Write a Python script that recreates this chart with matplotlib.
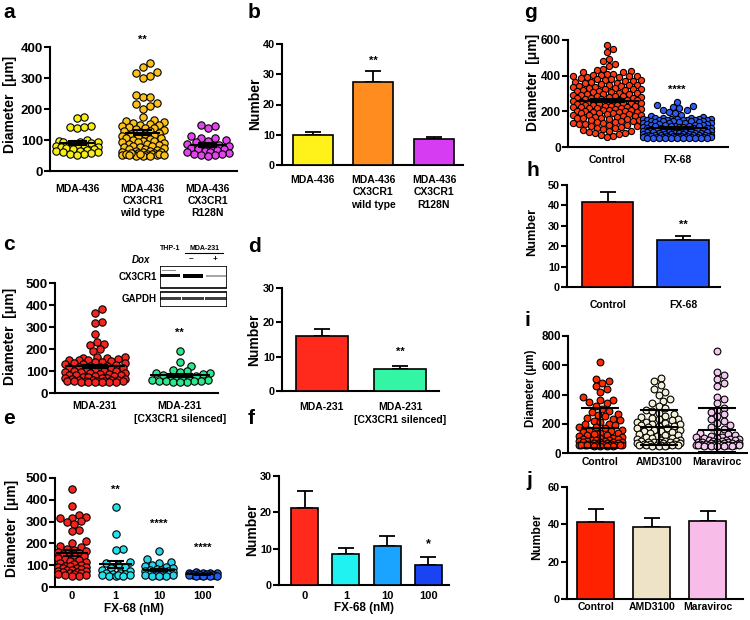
#Libraries
import numpy as np
import matplotlib
matplotlib.use('Agg')
import matplotlib.pyplot as plt
from matplotlib.patches import Rectangle

#Set style
plt.rcParams['font.family'] = ['Liberation Sans', 'DejaVu Sans']
plt.rcParams['font.weight'] = 'bold'

#Data: diameters (um)
a_436 = [175, 170, 145, 143, 140, 142, 100, 97, 95, 95, 92, 90, 88, 85, 82, 80, 78, 76, 74, 72,
         70, 68, 66, 64, 62, 60, 58, 56, 54, 52]
a_wt = [350, 335, 320, 315, 305, 300, 245, 240, 240, 220, 215, 210, 200, 175, 165, 160, 158, 155,
        152, 150, 148, 145, 142, 140, 138, 135, 132, 130, 128, 125, 122, 120, 118, 115, 112, 110,
        108, 105, 102, 100, 98, 96, 94, 92, 90, 88, 86, 84, 82, 80, 78, 76, 74, 72, 70, 68, 66,
        64, 62, 60, 58, 57, 56, 55, 54, 53, 52, 51, 50, 50, 60, 58, 56, 55, 54, 52, 51, 50]
a_r128n = [150, 145, 140, 112, 108, 105, 100, 97, 92, 88, 85, 82, 80, 78, 75, 72, 70, 68, 65, 62,
           60, 58, 56, 55, 53, 52, 50]
a_labels = ['MDA-436', 'MDA-436\nCX3CR1\nwild type', 'MDA-436\nCX3CR1\nR128N']

c_231 = [380, 362, 322, 318, 270, 232, 225, 220, 200, 190, 165, 162, 160, 158, 155, 152, 150, 148,
         145, 143, 140, 138, 135, 132, 130, 128, 125, 122, 120, 118, 115, 112, 110, 108, 105, 102,
         100, 98, 96, 94, 92, 90, 88, 86, 84, 82, 80, 78, 76, 74, 72, 70, 68, 66, 64, 62, 60, 60,
         58, 58, 56, 56, 55, 55, 54, 53, 52, 52, 51, 50, 50, 50]
c_sil = [190, 140, 125, 105, 100, 96, 92, 90, 86, 82, 78, 74, 70, 66, 62, 60, 58, 56, 55, 54, 53,
         52, 51, 50]
c_labels = ['MDA-231', 'MDA-231\n[CX3CR1 silenced]']

e_0 = [450, 372, 330, 322, 318, 315, 302, 298, 290, 262, 258, 210, 200, 190, 182, 176, 170, 165,
       160, 155, 150, 148, 145, 140, 135, 130, 125, 120, 115, 110, 105, 100, 98, 95, 92, 90, 88,
       85, 82, 80, 78, 75, 72, 70, 68, 65, 62, 60, 58, 56, 54, 52, 50]
e_1 = [365, 245, 175, 172, 115, 110, 100, 92, 85, 78, 72, 66, 62, 58, 55, 52, 50, 60, 56, 54, 51]
e_10 = [165, 130, 115, 110, 100, 96, 92, 88, 84, 80, 78, 75, 72, 70, 68, 65, 62, 60, 58, 56, 55,
        54, 53, 52, 51, 50]
e_100 = [68, 66, 65, 63, 62, 60, 60, 58, 57, 56, 55, 55, 54, 53, 52, 51, 50, 50]
fx_labels = ['0', '1', '10', '100']

g_ctrl = [570, 548, 535, 492, 480, 468, 455, 440, 432, 428, 420, 418, 412, 410, 405, 404, 400, 398,
          396, 392, 390, 386, 383, 380, 377, 376, 370, 368, 366, 362, 360, 357, 355, 350, 348, 347,
          343, 340, 338, 336, 333, 330, 328, 325, 323, 320, 318, 316, 312, 310, 308, 305, 303, 300,
          298, 296, 293, 290, 288, 287, 284, 280, 278, 276, 274, 272, 270, 268, 266, 264, 262, 260,
          258, 256, 255, 252, 250, 248, 246, 244, 242, 240, 238, 236, 234, 232, 230, 228, 226, 225,
          222, 220, 218, 216, 214, 212, 210, 208, 206, 204, 202, 200, 198, 196, 194, 192, 190, 188,
          186, 184, 182, 180, 177, 175, 172, 170, 167, 165, 162, 160, 158, 155, 152, 150, 147, 145,
          142, 140, 137, 135, 130, 128, 125, 122, 118, 115, 112, 108, 105, 100, 96, 92, 88, 84, 80,
          76, 72, 68, 62, 55]
g_fx = [255, 235, 230, 225, 220, 210, 205, 195, 190, 180, 175, 170, 165, 162, 160, 158, 157, 156,
        155, 155, 154, 153, 152, 151, 150, 150, 149, 148, 147, 146, 145, 144, 142, 140, 138, 136,
        135, 134, 132, 130, 128, 127, 126, 125, 124, 122, 120, 118, 117, 116, 115, 114, 112, 110,
        108, 107, 106, 105, 104, 102, 100, 99, 98, 97, 96, 95, 94, 92, 90, 89, 88, 87, 86, 85, 84,
        83, 82, 80, 79, 78, 77, 76, 75, 74, 73, 72, 71, 70, 69, 68, 67, 66, 65, 65, 64, 63, 62, 62,
        61, 60, 60, 59, 58, 58, 57, 57, 56, 56, 55, 55, 55, 54, 54, 53, 53, 52, 52, 51, 51, 50, 50,
        50, 50, 50]
g_labels = ['Control', 'FX-68']

i_ctrl = [620, 505, 495, 482, 455, 440, 420, 380, 365, 360, 350, 340, 320, 300, 290, 280, 270, 260,
          250, 240, 235, 225, 220, 210, 200, 195, 190, 180, 175, 170, 160, 155, 150, 145, 140, 135,
          130, 125, 120, 115, 110, 105, 100, 98, 95, 92, 90, 88, 85, 82, 80, 78, 76, 74, 72, 70, 68,
          66, 64, 62, 60, 60, 58, 58, 56, 56, 55, 55, 54, 54, 53, 52, 52, 51, 50, 50, 50]
i_amd = [510, 490, 462, 440, 418, 400, 372, 355, 340, 320, 305, 295, 285, 275, 265, 255, 245, 240,
         235, 230, 225, 215, 210, 205, 200, 198, 190, 185, 182, 175, 170, 168, 160, 160, 152, 150,
         145, 138, 130, 125, 120, 115, 110, 105, 100, 96, 92, 88, 85, 82, 80, 78, 76, 74, 72, 70,
         68, 66, 64, 62, 60, 58, 57, 56, 55, 54, 53, 52, 51, 50, 50]
i_mar = [695, 555, 535, 505, 480, 455, 385, 372, 340, 310, 295, 280, 265, 250, 235, 220, 205, 190,
         178, 165, 152, 140, 130, 120, 118, 112, 110, 105, 102, 98, 95, 92, 88, 86, 84, 80, 78, 77,
         74, 72, 71, 68, 66, 66, 64, 63, 62, 60, 60, 58, 58, 57, 56, 56, 55, 54, 54, 53, 52, 52,
         51, 50, 50, 50, 50]
i_labels = ['Control', 'AMD3100', 'Maraviroc']

#Data: numbers (mean, SEM)
b_mean = [10.0, 27.6, 8.6]
b_err = [1.0, 3.4, 0.8]
d_mean = [16.0, 6.3]
d_err = [2.2, 0.9]
f_mean = [21.3, 8.6, 10.6, 5.6]
f_err = [4.5, 1.7, 2.8, 2.2]
h_mean = [41.5, 23.0]
h_err = [5.0, 2.0]
j_mean = [41.0, 38.5, 42.0]
j_err = [7.0, 5.0, 5.0]

W, H = 750, 620
fig = plt.figure(figsize=(7.5, 6.2), dpi=100)


def panel(x0, x1, y0, ytop, xlim, ylim, yticks, fs=9.5):
    ax = fig.add_axes([x0/W, 1-y0/H, (x1-x0)/W, (y0-ytop)/H])
    ax.set_xlim(xlim)
    ax.set_ylim(ylim)
    ax.set_yticks(yticks)
    for s in ['top', 'right']:
        ax.spines[s].set_visible(False)
    for s in ['left', 'bottom']:
        ax.spines[s].set_linewidth(1.5)
    ax.tick_params(axis='y', direction='out', length=4, width=1.5, labelsize=fs, pad=1)
    ax.tick_params(axis='x', length=0, labelsize=7.5)
    ax.patch.set_alpha(0)
    ppx = (x1-x0)/(xlim[1]-xlim[0])
    ppy = (y0-ytop)/(ylim[1]-ylim[0])
    return ax, ppx, ppy


def swarm(vals, ppx, ppy, d, half):
    vals = np.asarray(vals, float)
    xs = np.zeros(len(vals))
    placed = []
    cands = [0.0]
    s = d/3
    while s <= half:
        cands += [s, -s]
        s += d/3
    for i in np.argsort(vals):
        y = vals[i]*ppy
        best, bestd = 0.0, -1.0
        for c in cands:
            if placed:
                P = np.array(placed)
                md = np.min(np.hypot(P[:, 0]-c, P[:, 1]-y))
            else:
                md = 1e9
            if md >= d:
                best = c
                break
            if md > bestd:
                bestd, best = md, c
        placed.append((best, y))
        xs[i] = best/ppx
    return xs


def dots(ax, ppx, ppy, groups, colors, half, d=7, s=28, mw=0.55, cw=0.3, err='sem'):
    for k, (g, c) in enumerate(zip(groups, colors)):
        g = np.asarray(g, float)
        xs = k + swarm(g, ppx, ppy, d, half)
        ax.scatter(xs, g, s=s, c=c, edgecolors='black', linewidths=0.8, zorder=3, clip_on=False)
        m = g.mean()
        e = g.std(ddof=1)
        if err == 'sem':
            e = e/np.sqrt(len(g))
        ax.hlines(m, k-mw/2, k+mw/2, color='black', lw=1.5, zorder=4)
        ax.hlines([m-e, m+e], k-cw/2, k+cw/2, color='black', lw=1.5, zorder=4)
        ax.vlines(k, m-e, m+e, color='black', lw=1.5, zorder=4)


def bars(ax, means, errs, colors, w):
    x = np.arange(len(means))
    ax.bar(x, means, width=w, color=colors, edgecolor='black', linewidth=1.2, zorder=3)
    ax.errorbar(x, means, yerr=[np.zeros(len(errs)), errs], fmt='none', ecolor='black',
                elinewidth=1.3, capsize=6, capthick=1.3, zorder=2)


def ylab(x, y, txt, fs=10):
    fig.text(x/W, 1-y/H, txt, rotation=90, ha='center', va='center', fontsize=fs,
             fontweight='bold')


def letter(x, y, t):
    fig.text(x/W, 1-y/H, t, ha='left', va='center', fontsize=15, fontweight='bold')


#Panel a
ax, ppx, ppy = panel(50, 237, 171, 47, (-0.42, 2.45), (0, 400), [0, 100, 200, 300, 400])
dots(ax, ppx, ppy, [a_436, a_wt, a_r128n], ['#f7ee17', '#fdc21a', '#e444ee'], half=22)
ax.set_xticks(range(3))
ax.set_xticklabels(a_labels, va='top', linespacing=1.3)
ax.tick_params(axis='x', pad=9)
ax.text(1, 422, '**', ha='center', va='center', fontsize=8)
ylab(10, 104, 'Diameter  [\u03bcm]')
letter(3, 12, 'a')

#Panel b
ax, ppx, ppy = panel(282, 463, 165, 44, (-0.51, 2.48), (0, 40), [0, 10, 20, 30, 40], fs=7.8)
bars(ax, b_mean, b_err, ['#fff21a', '#ff8c1f', '#d63cf2'], 0.66)
ax.set_xticks(range(3))
ax.set_xticklabels(a_labels, va='top', linespacing=1.3)
ax.tick_params(axis='x', pad=7)
ax.text(1, 34.5, '**', ha='center', va='center', fontsize=8)
ylab(255, 104, 'Number', fs=10)
letter(248, 12, 'b')

#Panel c
ax, ppx, ppy = panel(55, 218, 393, 283, (-0.47, 1.45), (0, 500), [0, 100, 200, 300, 400, 500])
dots(ax, ppx, ppy, [c_231, c_sil], ['#f5241e', '#2ee88e'], half=32, mw=0.7)
ax.set_xticks(range(2))
ax.set_xticklabels(c_labels, va='top', linespacing=1.3)
ax.tick_params(axis='x', pad=6)
ax.text(1, 275, '**', ha='center', va='center', fontsize=8)
ylab(10, 336, 'Diameter  [\u03bcm]')
letter(3, 245, 'c')

#Western blot inset
bx = fig.add_axes([160/W, 1-307/H, 67/W, 41/H])
bx.set_xlim(160, 227)
bx.set_ylim(307, 266)
bx.axis('off')
bx.add_patch(Rectangle((160, 266), 67, 22, fill=False, lw=1.2, ec='black'))
bx.add_patch(Rectangle((160, 292), 67, 15, fill=False, lw=1.2, ec='black'))
for xc, a_, h_ in [(170, 0.95, 3), (193, 1.0, 4), (216, 0.35, 2)]:
    bx.add_patch(Rectangle((xc-10, 276-h_/2), 20, h_, color='black', alpha=a_, lw=0))
bx.add_patch(Rectangle((162, 270), 14, 1.5, color='black', alpha=0.45, lw=0))
for xc in [170, 193, 216]:
    bx.add_patch(Rectangle((xc-11, 297.5), 22, 3, color='black', alpha=0.75, lw=0))
fig.text(170/W, 1-248/H, 'THP-1', ha='center', va='center', fontsize=5)
fig.text(204/W, 1-248/H, 'MDA-231', ha='center', va='center', fontsize=5)
fig.add_artist(plt.Line2D([185/W, 223/W], [1-253/H, 1-253/H], color='black', lw=0.8))
fig.text(132/W, 1-260/H, 'Dox', ha='left', va='center', fontsize=7, style='italic')
fig.text(191/W, 1-259/H, '\u2013', ha='center', va='center', fontsize=6)
fig.text(215/W, 1-259/H, '+', ha='center', va='center', fontsize=6)
fig.text(157/W, 1-277/H, 'CX3CR1', ha='right', va='center', fontsize=7)
fig.text(157/W, 1-299/H, 'GAPDH', ha='right', va='center', fontsize=7)

#Panel d
ax, ppx, ppy = panel(282, 439, 391, 288, (-0.51, 1.5), (0, 30), [0, 10, 20, 30], fs=7.8)
bars(ax, d_mean, d_err, ['#ff2a1c', '#33f5a4'], 0.67)
ax.set_xticks(range(2))
ax.set_xticklabels(c_labels, va='top', linespacing=1.3)
ax.tick_params(axis='x', pad=8)
ax.text(1, 11.5, '**', ha='center', va='center', fontsize=8)
ylab(254, 340, 'Number', fs=10)
letter(248, 247, 'd')

#Panel e
ax, ppx, ppy = panel(55, 213, 587, 478, (-0.39, 3.24), (0, 500), [0, 100, 200, 300, 400, 500])
dots(ax, ppx, ppy, [e_0, e_1, e_10, e_100], ['#f5241e', '#26e2ee', '#26d4ee', '#1f5cf2'],
     half=16, mw=0.75, cw=0.4)
ax.set_xticks(range(4))
ax.set_xticklabels(fx_labels)
ax.tick_params(axis='x', pad=3, labelsize=8)
ax.set_xlabel('FX-68 (nM)', fontsize=8.5, fontweight='bold', labelpad=1)
ax.text(1, 445, '**', ha='center', va='center', fontsize=8)
ax.text(2, 292, '****', ha='center', va='center', fontsize=8)
ax.text(3, 180, '****', ha='center', va='center', fontsize=8)
ylab(12, 528, 'Diameter  [\u03bcm]')
letter(3, 418, 'e')

#Panel f
ax, ppx, ppy = panel(279, 449, 585, 476, (-0.62, 3.5), (0, 30), [0, 10, 20, 30], fs=7.8)
bars(ax, f_mean, f_err, ['#ff2a1c', '#1ff2f0', '#1aa4ff', '#1a44f2'], 0.65)
ax.set_xticks(range(4))
ax.set_xticklabels(fx_labels)
ax.tick_params(axis='x', pad=4, labelsize=8)
ax.set_xlabel('FX-68 (nM)', fontsize=8.5, fontweight='bold', labelpad=1)
ax.text(3, 11.3, '*', ha='center', va='center', fontsize=9)
ylab(252, 530, 'Number', fs=10)
letter(248, 418, 'f')

#Panel g
ax, ppx, ppy = panel(568, 728, 147, 40, (-0.56, 1.73), (0, 600), [0, 200, 400, 600], fs=8.6)
dots(ax, ppx, ppy, [g_ctrl, g_fx], ['#ff3a12', '#2c5cf5'], half=34, d=6, s=20, mw=0.9, cw=0.5)
ax.set_xticks(range(2))
ax.set_xticklabels(g_labels)
ax.tick_params(axis='x', pad=6, labelsize=7.5)
ax.text(1, 320, '****', ha='center', va='center', fontsize=8)
ylab(533, 82, 'Diameter  [\u03bcm]')
letter(524, 12, 'g')

#Panel h
ax, ppx, ppy = panel(567, 720, 287, 185, (-0.54, 1.49), (0, 50), [0, 10, 20, 30, 40, 50],
                     fs=7.8)
bars(ax, h_mean, h_err, ['#ff2200', '#2255ff'], 0.68)
ax.set_xticks(range(2))
ax.set_xticklabels(g_labels)
ax.tick_params(axis='x', pad=9, labelsize=7.5)
ax.text(1, 30.5, '**', ha='center', va='center', fontsize=8)
ylab(532, 232, 'Number', fs=9.2)
letter(527, 170, 'h')

#Panel i
ax, ppx, ppy = panel(568, 747, 453, 336, (-0.55, 2.51), (0, 800), [0, 200, 400, 600, 800],
                     fs=8.4)
dots(ax, ppx, ppy, [i_ctrl, i_amd, i_mar], ['#ff2a00', '#f5f0d8', '#f3c8ee'], half=22,
     d=6.5, s=24, mw=0.65, cw=0.65, err='sd')
ax.set_xticks(range(3))
ax.set_xticklabels(i_labels)
ax.tick_params(axis='x', pad=3, labelsize=7.5)
ylab(531, 388, 'Diameter (\u03bcm)', fs=8.3)
letter(525, 320, 'i')

#Panel j
ax, ppx, ppy = panel(567, 743, 599, 487, (-0.51, 2.63), (0, 60), [0, 20, 40, 60], fs=7.8)
bars(ax, j_mean, j_err, ['#ff2200', '#eee3c6', '#f8bce8'], 0.66)
ax.set_xticks(range(3))
ax.set_xticklabels(i_labels)
ax.tick_params(axis='x', pad=2, labelsize=7.5)
ylab(537, 537, 'Number', fs=8.8)
letter(526, 480, 'j')

fig.savefig('out.png', dpi=100)
